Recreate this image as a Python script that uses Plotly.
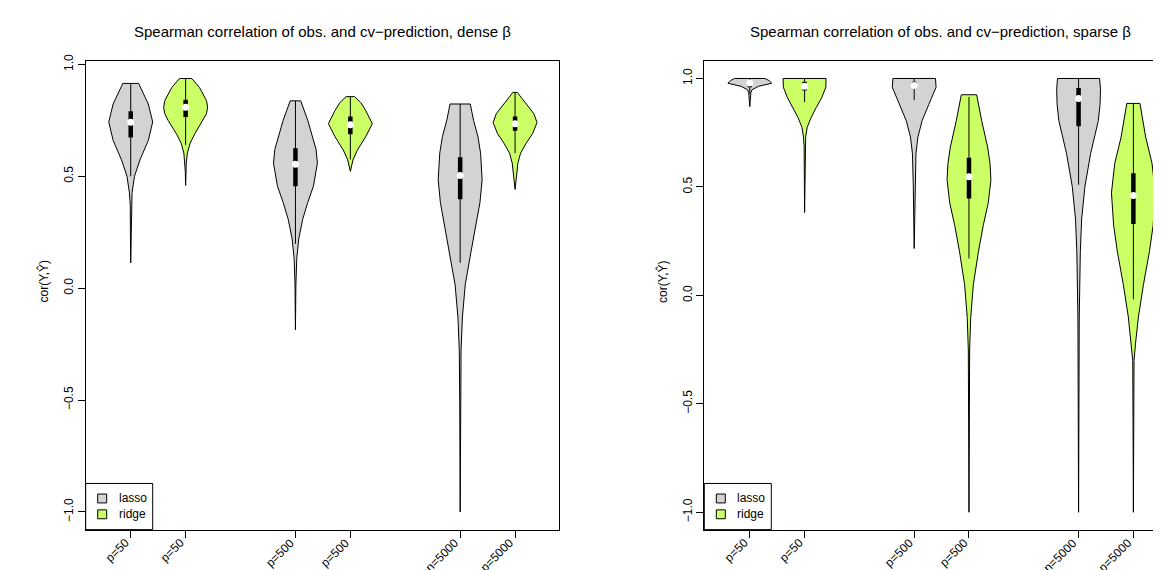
import plotly.graph_objects as go

W, H = 1161, 570

# ---------------- data ----------------
tick_labels = ["p=50", "p=50", "p=500", "p=500", "n=5000", "p=5000"]
positions = [1, 2, 4, 5, 7, 8]
methods = ["lasso", "ridge", "lasso", "ridge", "lasso", "ridge"]

# dense beta: density profiles (y levels, relative width)
dense_l50_y = [0.113, 0.25, 0.37, 0.426, 0.5, 0.573, 0.66, 0.743, 0.823, 0.868, 0.915]
dense_l50_w = [0.0, 0.015, 0.02, 0.06, 0.17, 0.42, 0.8, 1.0, 0.8, 0.58, 0.36]
dense_r50_y = [0.459, 0.52, 0.56, 0.603, 0.647, 0.69, 0.75, 0.78, 0.809, 0.838, 0.897, 0.937]
dense_r50_w = [0.0, 0.015, 0.03, 0.08, 0.2, 0.42, 0.8, 0.95, 1.0, 0.95, 0.63, 0.28]
dense_l500_y = [-0.186, -0.05, 0.014, 0.132, 0.22, 0.308, 0.383, 0.456, 0.559, 0.62, 0.662, 0.75, 0.837]
dense_l500_w = [0.0, 0.01, 0.02, 0.06, 0.15, 0.33, 0.56, 0.82, 1.0, 0.94, 0.82, 0.56, 0.24]
dense_r500_y = [0.522, 0.55, 0.573, 0.617, 0.677, 0.735, 0.794, 0.83, 0.856]
dense_r500_w = [0.0, 0.05, 0.12, 0.32, 0.7, 1.0, 0.7, 0.47, 0.19]
dense_l5000_y = [-1.0, -0.8, -0.5, -0.28, -0.133, 0.015, 0.161, 0.279, 0.382, 0.485, 0.603, 0.677, 0.75, 0.823]
dense_l5000_w = [0.0, 0.01, 0.02, 0.04, 0.1, 0.23, 0.49, 0.72, 0.9, 1.0, 0.93, 0.81, 0.61, 0.46]
dense_r5000_y = [0.441, 0.515, 0.559, 0.603, 0.647, 0.691, 0.74, 0.779, 0.823, 0.875]
dense_r5000_w = [0.0, 0.07, 0.13, 0.25, 0.5, 0.8, 1.0, 0.86, 0.52, 0.1]

dense_median = [0.741, 0.809, 0.554, 0.730, 0.503, 0.735]
dense_q1 = [0.673, 0.765, 0.456, 0.688, 0.397, 0.703]
dense_q3 = [0.791, 0.842, 0.625, 0.767, 0.585, 0.767]
dense_wlo = [0.5, 0.64, 0.198, 0.575, 0.113, 0.603]
dense_whi = [0.915, 0.937, 0.837, 0.856, 0.823, 0.875]

# sparse beta
sparse_l50_y = [0.870, 0.91, 0.935, 0.948, 0.964, 0.978, 0.99, 1.0]
sparse_l50_w = [0.0, 0.02, 0.05, 0.1, 0.4, 1.0, 0.88, 0.7]
sparse_r50_y = [0.382, 0.55, 0.685, 0.73, 0.775, 0.82, 0.866, 0.911, 0.96, 1.0]
sparse_r50_w = [0.0, 0.01, 0.02, 0.05, 0.12, 0.3, 0.53, 0.78, 0.97, 0.98]
sparse_l500_y = [0.216, 0.352, 0.503, 0.654, 0.730, 0.805, 0.881, 0.96, 1.0]
sparse_l500_w = [0.0, 0.02, 0.04, 0.08, 0.17, 0.36, 0.67, 1.0, 0.97]
sparse_r500_y = [-1.0, -0.6, -0.252, -0.101, 0.05, 0.201, 0.322, 0.427, 0.533, 0.608, 0.684, 0.805, 0.925]
sparse_r500_w = [0.0, 0.025, 0.03, 0.08, 0.2, 0.43, 0.65, 0.88, 1.0, 0.96, 0.85, 0.58, 0.35]
sparse_l5000_y = [-1.0, -0.5, -0.1, 0.201, 0.352, 0.503, 0.654, 0.805, 0.881, 0.95, 1.0]
sparse_l5000_w = [0.0, 0.01, 0.03, 0.08, 0.14, 0.29, 0.55, 0.9, 0.98, 1.0, 0.96]
sparse_r5000_y = [-1.0, -0.6, -0.3, -0.22, -0.1, 0.05, 0.201, 0.322, 0.473, 0.609, 0.73, 0.885]
sparse_r5000_w = [0.0, 0.015, 0.03, 0.1, 0.23, 0.46, 0.73, 0.9, 1.0, 0.85, 0.56, 0.3]

sparse_median = [0.979, 0.964, 0.968, 0.547, 0.908, 0.46]
sparse_q1 = [0.96, 0.945, 0.955, 0.447, 0.780, 0.329]
sparse_q3 = [0.985, 0.985, 0.985, 0.635, 0.956, 0.563]
sparse_wlo = [0.93, 0.891, 0.90, 0.17, 0.51, -0.018]
sparse_whi = [1.0, 1.0, 1.0, 0.915, 1.0, 0.885]

y_tickvals = [-1.0, -0.5, 0.0, 0.5, 1.0]
y_ticktext = ["\u22121.0", "\u22120.5", "0.0", "0.5", "1.0"]

titles = ["Spearman correlation of obs. and cv\u2212prediction, dense \u03b2",
          "Spearman correlation of obs. and cv\u2212prediction, sparse \u03b2"]
ylabel = "cor(Y,\u0176)"
legend_labels = ["lasso", "ridge"]
colors = {"lasso": "#D3D3D3", "ridge": "#CCFF66"}

FONT = "Liberation Sans, Arial, Helvetica, sans-serif"
HALF = 0.4  # max half width of a violin

dense_profiles = [(dense_l50_y, dense_l50_w), (dense_r50_y, dense_r50_w),
                  (dense_l500_y, dense_l500_w), (dense_r500_y, dense_r500_w),
                  (dense_l5000_y, dense_l5000_w), (dense_r5000_y, dense_r5000_w)]
sparse_profiles = [(sparse_l50_y, sparse_l50_w), (sparse_r50_y, sparse_r50_w),
                   (sparse_l500_y, sparse_l500_w), (sparse_r500_y, sparse_r500_w),
                   (sparse_l5000_y, sparse_l5000_w), (sparse_r5000_y, sparse_r5000_w)]

fig = go.Figure()


def add_panel(profiles, med, q1, q3, wlo, whi, xa, ya):
    for pos, m, (ys, ws) in zip(positions, methods, profiles):
        xs = [pos + HALF * w for w in ws] + [pos - HALF * w for w in ws[::-1]]
        yy = list(ys) + list(ys[::-1])
        fig.add_trace(go.Scatter(x=xs, y=yy, mode="lines", fill="toself",
                                 fillcolor=colors[m],
                                 line=dict(color="black", width=1),
                                 xaxis=xa, yaxis=ya, showlegend=False, hoverinfo="skip"))
    wx, wy, bx, by = [], [], [], []
    for p, lo, hi, a, b in zip(positions, wlo, whi, q1, q3):
        wx += [p, p, None]
        wy += [lo, hi, None]
        bx += [p, p, None]
        by += [a, b, None]
    fig.add_trace(go.Scatter(x=wx, y=wy, mode="lines", line=dict(color="black", width=1),
                             xaxis=xa, yaxis=ya, showlegend=False, hoverinfo="skip"))
    fig.add_trace(go.Scatter(x=bx, y=by, mode="lines", line=dict(color="black", width=4.5),
                             xaxis=xa, yaxis=ya, showlegend=False, hoverinfo="skip"))
    fig.add_trace(go.Scatter(x=positions, y=med, mode="markers",
                             marker=dict(color="white", size=7, line=dict(width=0)),
                             xaxis=xa, yaxis=ya, showlegend=False, hoverinfo="skip"))


add_panel(dense_profiles, dense_median, dense_q1, dense_q3, dense_wlo, dense_whi, "x", "y")
add_panel(sparse_profiles, sparse_median, sparse_q1, sparse_q3, sparse_wlo, sparse_whi, "x2", "y2")


def px(v):
    return v / W


def py(v):
    return 1 - v / H


TOP, BOT = 46.7, 521.0
LEFT1, RIGHT1 = 77.7, 551.0
LEFT2, RIGHT2 = 696.3, 1161.0

axis_common = dict(showgrid=False, zeroline=False, ticks="outside", ticklen=7,
                   tickcolor="black", tickwidth=1, linecolor="black", linewidth=1,
                   showline=True, tickfont=dict(family=FONT, size=12, color="black"))

fig.update_layout(
    width=W, height=H, margin=dict(l=0, r=0, t=0, b=0),
    paper_bgcolor="white", plot_bgcolor="white",
    font=dict(family=FONT, size=12, color="black"),
    xaxis=dict(domain=[px(LEFT1), px(RIGHT1)], range=[0.18, 8.80], tickvals=positions,
               showticklabels=False, mirror=True, anchor="y", **axis_common),
    yaxis=dict(domain=[py(BOT), py(TOP)], range=[-1.079, 1.0146], tickvals=y_tickvals,
               ticktext=y_ticktext, tickangle=-90, mirror=True, anchor="x", **axis_common),
    xaxis2=dict(domain=[px(LEFT2), px(RIGHT2)], range=[0.17, 8.65], tickvals=positions,
                showticklabels=False, mirror=True, anchor="y2", **axis_common),
    yaxis2=dict(domain=[py(BOT), py(TOP)], range=[-1.08, 1.08], tickvals=y_tickvals,
                ticktext=y_ticktext, tickangle=-90, mirror=False, anchor="x2", **axis_common),
)

annotations = []
shapes = []
for i, (left, right) in enumerate([(LEFT1, RIGHT1), (LEFT2, 1169.4)]):
    cx = (left + right) / 2
    xref = "x" if i == 0 else "x2"
    annotations.append(dict(text=titles[i], x=px(cx), y=py(17), xref="paper", yref="paper",
                            showarrow=False, xanchor="center", yanchor="middle",
                            font=dict(family=FONT, size=15, color="black")))
    annotations.append(dict(text=ylabel, x=px(left - 42), y=py(270),
                            xref="paper", yref="paper", showarrow=False, textangle=-90,
                            xanchor="center", yanchor="middle",
                            font=dict(family=FONT, size=12, color="black")))
    # rotated category labels under the ticks
    for p, lab in zip(positions, tick_labels):
        annotations.append(dict(text=lab, x=p, y=py(526), xref=xref, yref="paper",
                                showarrow=False, textangle=-45, xanchor="right", yanchor="top",
                                xshift=3, borderpad=0,
                                font=dict(family=FONT, size=12, color="black")))
    # legend box
    shapes.append(dict(type="rect", xref="paper", yref="paper", x0=px(left), x1=px(left + 67),
                       y0=py(BOT), y1=py(474.3), line=dict(color="black", width=1),
                       fillcolor="white"))
    for j, lab in enumerate(legend_labels):
        cy = 489.5 + 16 * j
        shapes.append(dict(type="rect", xref="paper", yref="paper",
                           x0=px(left + 12), x1=px(left + 21), y0=py(cy + 4.5), y1=py(cy - 4.5),
                           line=dict(color="black", width=1), fillcolor=colors[lab]))
        annotations.append(dict(text=lab, x=px(left + 31), y=py(cy), xref="paper", yref="paper",
                                showarrow=False, xanchor="left", yanchor="middle",
                                font=dict(family=FONT, size=12, color="black")))

fig.update_layout(annotations=annotations, shapes=shapes)
fig.write_html("out.html")
